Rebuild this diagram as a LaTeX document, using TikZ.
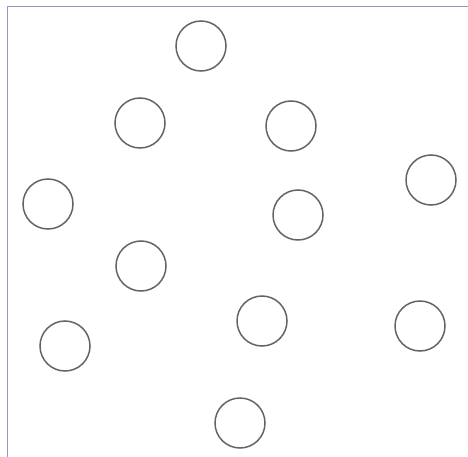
\documentclass[tikz,border=0pt]{standalone}
\usepackage{xcolor}
\usepackage{tikz}
\usetikzlibrary{positioning}
\definecolor{framecol}{RGB}{150,150,190}
\definecolor{ringcol}{RGB}{100,100,100}

\begin{document}
\begin{tikzpicture}[x=1pt,y=-1pt,vertex/.style={circle,draw=ringcol,line width=1.5pt,minimum size=50pt,inner sep=0pt}]
    \useasboundingbox (0,0) rectangle (468,457);
    \draw[framecol,line width=1pt] (7,457) -- (7,7) -- (468,7);

    \node[vertex] (v1) at (201,46) {};
    \node[vertex] (v2) at (140,123) {};
    \node[vertex] (v3) at (291,126) {};
    \node[vertex] (v4) at (431,180) {};
    \node[vertex] (v5) at (48,204) {};
    \node[vertex] (v6) at (298,215) {};
    \node[vertex] (v7) at (141,266) {};
    \node[vertex] (v8) at (262,321) {};
    \node[vertex] (v9) at (65,346) {};
    \node[vertex] (v10) at (420,326) {};
    \node[vertex] (v11) at (240,423) {};
\end{tikzpicture}
\end{document}
